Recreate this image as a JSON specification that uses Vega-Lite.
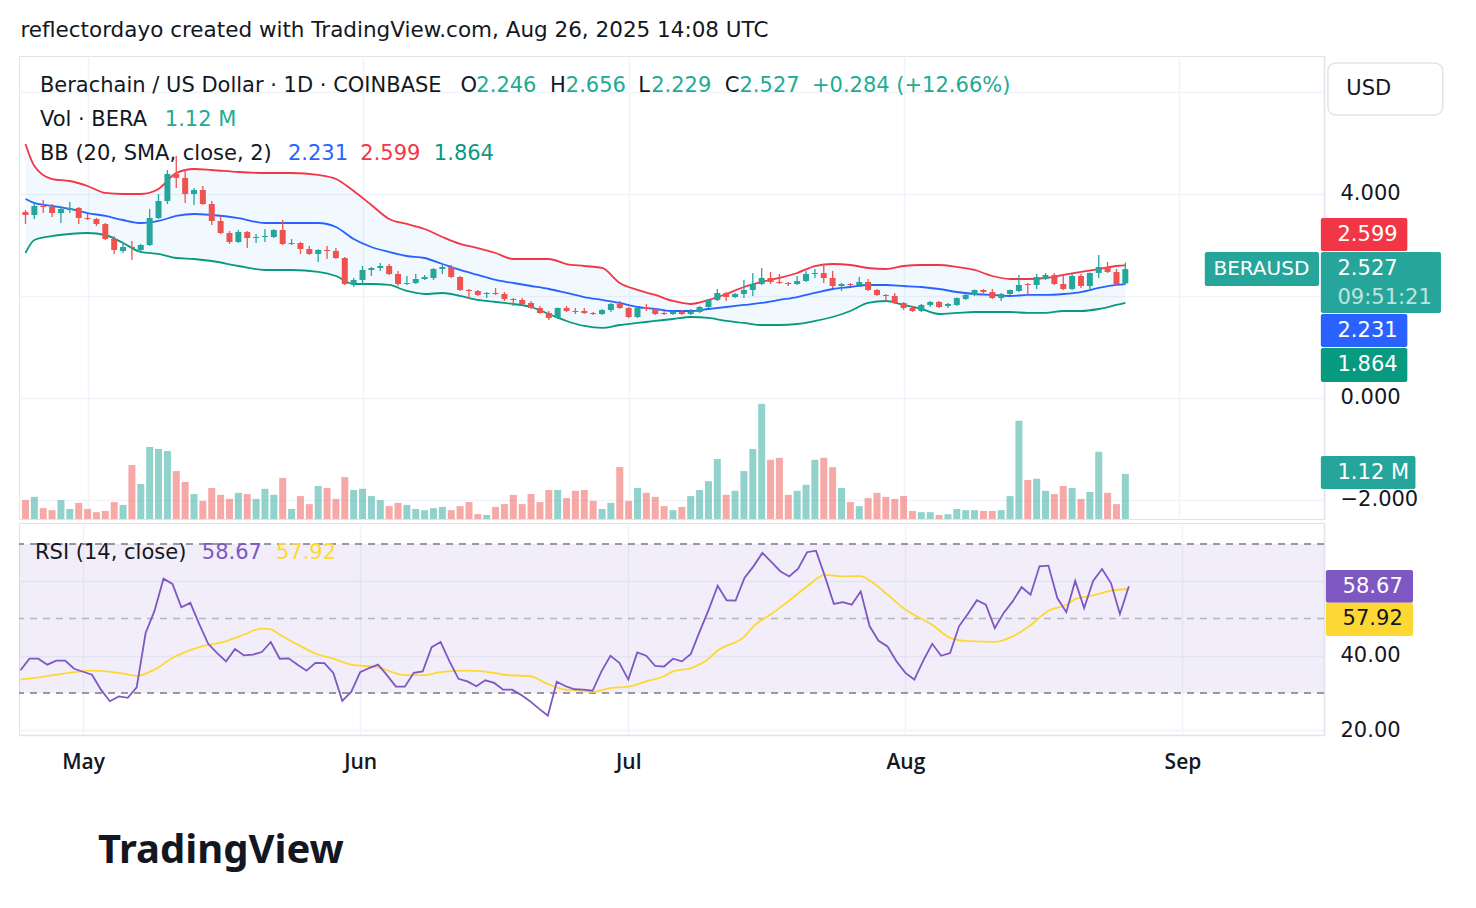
{
"$schema":"https://vega.github.io/schema/vega-lite/v6.json",
"background":"#ffffff",
"padding":{"left":16,"top":20,"right":10,"bottom":30},
"config":{"font":"DejaVu Sans","view":{"stroke":"#e0e3eb"}},
"title":{"text":"reflectordayo created with TradingView.com, Aug 26, 2025 14:08 UTC","anchor":"start","fontSize":21.5,"fontWeight":"normal","color":"#131722","offset":14,"dx":4},
"spacing":2,
"datasets":{
"candles":[
{"date":"2025-04-24","open":3.647,"high":3.686,"low":3.412,"close":3.588,"volume":0.47},
{"date":"2025-04-25","open":3.588,"high":3.824,"low":3.510,"close":3.765,"volume":0.55},
{"date":"2025-04-26","open":3.765,"high":3.882,"low":3.627,"close":3.745,"volume":0.27},
{"date":"2025-04-27","open":3.745,"high":3.804,"low":3.549,"close":3.627,"volume":0.22},
{"date":"2025-04-28","open":3.627,"high":3.765,"low":3.431,"close":3.706,"volume":0.47},
{"date":"2025-04-29","open":3.686,"high":3.843,"low":3.627,"close":3.725,"volume":0.25},
{"date":"2025-04-30","open":3.725,"high":3.745,"low":3.412,"close":3.529,"volume":0.40},
{"date":"2025-05-01","open":3.529,"high":3.608,"low":3.490,"close":3.510,"volume":0.25},
{"date":"2025-05-02","open":3.510,"high":3.529,"low":3.373,"close":3.412,"volume":0.17},
{"date":"2025-05-03","open":3.412,"high":3.431,"low":3.098,"close":3.118,"volume":0.20},
{"date":"2025-05-04","open":3.118,"high":3.176,"low":2.824,"close":2.902,"volume":0.42},
{"date":"2025-05-05","open":2.882,"high":3.020,"low":2.843,"close":2.961,"volume":0.35},
{"date":"2025-05-06","open":2.961,"high":3.078,"low":2.706,"close":2.941,"volume":1.34},
{"date":"2025-05-07","open":2.902,"high":3.020,"low":2.843,"close":3.000,"volume":0.87},
{"date":"2025-05-08","open":3.000,"high":3.706,"low":2.980,"close":3.529,"volume":1.79},
{"date":"2025-05-09","open":3.529,"high":4.000,"low":3.510,"close":3.863,"volume":1.74},
{"date":"2025-05-10","open":3.863,"high":4.471,"low":3.804,"close":4.392,"volume":1.69},
{"date":"2025-05-11","open":4.392,"high":4.745,"low":4.118,"close":4.314,"volume":1.19},
{"date":"2025-05-12","open":4.314,"high":4.490,"low":3.824,"close":4.000,"volume":0.92},
{"date":"2025-05-13","open":4.000,"high":4.118,"low":3.784,"close":4.078,"volume":0.62},
{"date":"2025-05-14","open":4.078,"high":4.157,"low":3.784,"close":3.804,"volume":0.45},
{"date":"2025-05-15","open":3.804,"high":3.863,"low":3.392,"close":3.471,"volume":0.77},
{"date":"2025-05-16","open":3.471,"high":3.569,"low":3.216,"close":3.235,"volume":0.60},
{"date":"2025-05-17","open":3.235,"high":3.275,"low":3.020,"close":3.059,"volume":0.50},
{"date":"2025-05-18","open":3.059,"high":3.294,"low":3.039,"close":3.255,"volume":0.65},
{"date":"2025-05-19","open":3.255,"high":3.275,"low":2.941,"close":3.137,"volume":0.62},
{"date":"2025-05-20","open":3.137,"high":3.216,"low":3.039,"close":3.157,"volume":0.50},
{"date":"2025-05-21","open":3.157,"high":3.314,"low":3.059,"close":3.176,"volume":0.75},
{"date":"2025-05-22","open":3.157,"high":3.314,"low":3.137,"close":3.294,"volume":0.60},
{"date":"2025-05-23","open":3.294,"high":3.490,"low":3.000,"close":3.020,"volume":1.02},
{"date":"2025-05-24","open":3.020,"high":3.118,"low":3.000,"close":3.039,"volume":0.25},
{"date":"2025-05-25","open":3.039,"high":3.059,"low":2.824,"close":2.922,"volume":0.57},
{"date":"2025-05-26","open":2.922,"high":2.980,"low":2.804,"close":2.824,"volume":0.37},
{"date":"2025-05-27","open":2.824,"high":2.922,"low":2.667,"close":2.902,"volume":0.82},
{"date":"2025-05-28","open":2.902,"high":2.980,"low":2.725,"close":2.882,"volume":0.77},
{"date":"2025-05-29","open":2.882,"high":2.941,"low":2.725,"close":2.745,"volume":0.50},
{"date":"2025-05-30","open":2.745,"high":2.765,"low":2.216,"close":2.235,"volume":1.04},
{"date":"2025-05-31","open":2.235,"high":2.353,"low":2.176,"close":2.314,"volume":0.72},
{"date":"2025-06-01","open":2.314,"high":2.588,"low":2.235,"close":2.510,"volume":0.75},
{"date":"2025-06-02","open":2.510,"high":2.569,"low":2.392,"close":2.549,"volume":0.57},
{"date":"2025-06-03","open":2.549,"high":2.647,"low":2.490,"close":2.588,"volume":0.47},
{"date":"2025-06-04","open":2.588,"high":2.627,"low":2.412,"close":2.431,"volume":0.32},
{"date":"2025-06-05","open":2.431,"high":2.490,"low":2.196,"close":2.235,"volume":0.40},
{"date":"2025-06-06","open":2.235,"high":2.392,"low":2.216,"close":2.255,"volume":0.35},
{"date":"2025-06-07","open":2.255,"high":2.431,"low":2.235,"close":2.333,"volume":0.25},
{"date":"2025-06-08","open":2.333,"high":2.412,"low":2.314,"close":2.373,"volume":0.22},
{"date":"2025-06-09","open":2.353,"high":2.549,"low":2.314,"close":2.529,"volume":0.27},
{"date":"2025-06-10","open":2.529,"high":2.608,"low":2.431,"close":2.569,"volume":0.30},
{"date":"2025-06-11","open":2.569,"high":2.608,"low":2.353,"close":2.373,"volume":0.22},
{"date":"2025-06-12","open":2.373,"high":2.392,"low":2.098,"close":2.118,"volume":0.32},
{"date":"2025-06-13","open":2.118,"high":2.137,"low":1.941,"close":2.098,"volume":0.42},
{"date":"2025-06-14","open":2.098,"high":2.118,"low":2.000,"close":2.020,"volume":0.12},
{"date":"2025-06-15","open":2.039,"high":2.078,"low":1.961,"close":2.059,"volume":0.10},
{"date":"2025-06-16","open":2.059,"high":2.157,"low":2.020,"close":2.039,"volume":0.30},
{"date":"2025-06-17","open":2.039,"high":2.078,"low":1.902,"close":1.941,"volume":0.37},
{"date":"2025-06-18","open":1.941,"high":1.961,"low":1.804,"close":1.922,"volume":0.60},
{"date":"2025-06-19","open":1.922,"high":1.961,"low":1.824,"close":1.843,"volume":0.37},
{"date":"2025-06-20","open":1.863,"high":1.902,"low":1.745,"close":1.765,"volume":0.62},
{"date":"2025-06-21","open":1.765,"high":1.804,"low":1.647,"close":1.667,"volume":0.42},
{"date":"2025-06-22","open":1.667,"high":1.706,"low":1.529,"close":1.569,"volume":0.72},
{"date":"2025-06-23","open":1.569,"high":1.775,"low":1.549,"close":1.765,"volume":0.72},
{"date":"2025-06-24","open":1.765,"high":1.804,"low":1.686,"close":1.706,"volume":0.52},
{"date":"2025-06-25","open":1.706,"high":1.765,"low":1.647,"close":1.686,"volume":0.70},
{"date":"2025-06-26","open":1.706,"high":1.765,"low":1.647,"close":1.667,"volume":0.72},
{"date":"2025-06-27","open":1.667,"high":1.686,"low":1.627,"close":1.647,"volume":0.45},
{"date":"2025-06-28","open":1.647,"high":1.745,"low":1.627,"close":1.725,"volume":0.25},
{"date":"2025-06-29","open":1.725,"high":1.863,"low":1.686,"close":1.843,"volume":0.40},
{"date":"2025-06-30","open":1.843,"high":1.902,"low":1.745,"close":1.765,"volume":1.29},
{"date":"2025-07-01","open":1.765,"high":1.784,"low":1.569,"close":1.588,"volume":0.45},
{"date":"2025-07-02","open":1.588,"high":1.784,"low":1.569,"close":1.765,"volume":0.77},
{"date":"2025-07-03","open":1.784,"high":1.843,"low":1.706,"close":1.745,"volume":0.65},
{"date":"2025-07-04","open":1.745,"high":1.765,"low":1.627,"close":1.647,"volume":0.55},
{"date":"2025-07-05","open":1.667,"high":1.706,"low":1.627,"close":1.647,"volume":0.32},
{"date":"2025-07-06","open":1.647,"high":1.706,"low":1.627,"close":1.686,"volume":0.22},
{"date":"2025-07-07","open":1.686,"high":1.725,"low":1.627,"close":1.647,"volume":0.30},
{"date":"2025-07-08","open":1.647,"high":1.745,"low":1.627,"close":1.686,"volume":0.57},
{"date":"2025-07-09","open":1.686,"high":1.804,"low":1.667,"close":1.784,"volume":0.72},
{"date":"2025-07-10","open":1.784,"high":1.941,"low":1.765,"close":1.922,"volume":0.94},
{"date":"2025-07-11","open":1.922,"high":2.137,"low":1.902,"close":2.059,"volume":1.49},
{"date":"2025-07-12","open":2.059,"high":2.078,"low":1.902,"close":1.980,"volume":0.60},
{"date":"2025-07-13","open":1.980,"high":2.059,"low":1.961,"close":2.039,"volume":0.70},
{"date":"2025-07-14","open":2.039,"high":2.314,"low":1.961,"close":2.118,"volume":1.19},
{"date":"2025-07-15","open":2.118,"high":2.451,"low":2.000,"close":2.235,"volume":1.74},
{"date":"2025-07-16","open":2.235,"high":2.549,"low":2.216,"close":2.353,"volume":2.86},
{"date":"2025-07-17","open":2.353,"high":2.471,"low":2.235,"close":2.275,"volume":1.47},
{"date":"2025-07-18","open":2.275,"high":2.431,"low":2.235,"close":2.255,"volume":1.52},
{"date":"2025-07-19","open":2.255,"high":2.275,"low":2.196,"close":2.235,"volume":0.60},
{"date":"2025-07-20","open":2.235,"high":2.392,"low":2.216,"close":2.294,"volume":0.70},
{"date":"2025-07-21","open":2.294,"high":2.490,"low":2.275,"close":2.431,"volume":0.85},
{"date":"2025-07-22","open":2.431,"high":2.529,"low":2.353,"close":2.451,"volume":1.47},
{"date":"2025-07-23","open":2.451,"high":2.627,"low":2.255,"close":2.353,"volume":1.52},
{"date":"2025-07-24","open":2.353,"high":2.490,"low":2.157,"close":2.196,"volume":1.29},
{"date":"2025-07-25","open":2.196,"high":2.255,"low":2.098,"close":2.235,"volume":0.77},
{"date":"2025-07-26","open":2.235,"high":2.255,"low":2.196,"close":2.216,"volume":0.42},
{"date":"2025-07-27","open":2.216,"high":2.373,"low":2.196,"close":2.275,"volume":0.32},
{"date":"2025-07-28","open":2.275,"high":2.333,"low":2.098,"close":2.118,"volume":0.52},
{"date":"2025-07-29","open":2.118,"high":2.137,"low":2.000,"close":2.020,"volume":0.65},
{"date":"2025-07-30","open":2.020,"high":2.039,"low":1.902,"close":2.000,"volume":0.55},
{"date":"2025-07-31","open":2.000,"high":2.059,"low":1.843,"close":1.863,"volume":0.50},
{"date":"2025-08-01","open":1.863,"high":1.882,"low":1.725,"close":1.765,"volume":0.57},
{"date":"2025-08-02","open":1.765,"high":1.804,"low":1.686,"close":1.706,"volume":0.20},
{"date":"2025-08-03","open":1.706,"high":1.843,"low":1.686,"close":1.824,"volume":0.17},
{"date":"2025-08-04","open":1.824,"high":1.902,"low":1.784,"close":1.882,"volume":0.17},
{"date":"2025-08-05","open":1.882,"high":1.902,"low":1.765,"close":1.784,"volume":0.10},
{"date":"2025-08-06","open":1.804,"high":1.863,"low":1.765,"close":1.843,"volume":0.12},
{"date":"2025-08-07","open":1.824,"high":1.971,"low":1.804,"close":1.961,"volume":0.25},
{"date":"2025-08-08","open":1.941,"high":2.059,"low":1.922,"close":2.020,"volume":0.22},
{"date":"2025-08-09","open":2.020,"high":2.127,"low":2.000,"close":2.118,"volume":0.22},
{"date":"2025-08-10","open":2.118,"high":2.137,"low":2.020,"close":2.078,"volume":0.20},
{"date":"2025-08-11","open":2.078,"high":2.137,"low":1.941,"close":1.961,"volume":0.20},
{"date":"2025-08-12","open":1.961,"high":2.059,"low":1.902,"close":2.039,"volume":0.22},
{"date":"2025-08-13","open":2.039,"high":2.127,"low":2.020,"close":2.118,"volume":0.57},
{"date":"2025-08-14","open":2.098,"high":2.412,"low":2.078,"close":2.216,"volume":2.44},
{"date":"2025-08-15","open":2.235,"high":2.255,"low":2.000,"close":2.216,"volume":0.97},
{"date":"2025-08-16","open":2.216,"high":2.431,"low":2.137,"close":2.373,"volume":1.00},
{"date":"2025-08-17","open":2.333,"high":2.451,"low":2.314,"close":2.412,"volume":0.70},
{"date":"2025-08-18","open":2.412,"high":2.451,"low":2.216,"close":2.235,"volume":0.62},
{"date":"2025-08-19","open":2.235,"high":2.412,"low":2.118,"close":2.137,"volume":0.82},
{"date":"2025-08-20","open":2.137,"high":2.431,"low":2.118,"close":2.392,"volume":0.77},
{"date":"2025-08-21","open":2.392,"high":2.431,"low":2.157,"close":2.196,"volume":0.50},
{"date":"2025-08-22","open":2.196,"high":2.461,"low":2.118,"close":2.451,"volume":0.67},
{"date":"2025-08-23","open":2.451,"high":2.804,"low":2.353,"close":2.569,"volume":1.67},
{"date":"2025-08-24","open":2.569,"high":2.667,"low":2.451,"close":2.471,"volume":0.65},
{"date":"2025-08-25","open":2.471,"high":2.529,"low":2.216,"close":2.235,"volume":0.37},
{"date":"2025-08-26","open":2.246,"high":2.656,"low":2.229,"close":2.527,"volume":1.12}
],
"bb":[
{"date":"2025-04-24","upper":4.980,"mid":3.902,"lower":2.843},
{"date":"2025-04-25","upper":4.549,"mid":3.824,"lower":3.098},
{"date":"2025-04-27","upper":4.294,"mid":3.765,"lower":3.176},
{"date":"2025-04-29","upper":4.255,"mid":3.706,"lower":3.216},
{"date":"2025-05-01","upper":4.157,"mid":3.627,"lower":3.235},
{"date":"2025-05-03","upper":4.020,"mid":3.569,"lower":3.196},
{"date":"2025-05-05","upper":4.000,"mid":3.490,"lower":3.039},
{"date":"2025-05-07","upper":4.000,"mid":3.431,"lower":2.863},
{"date":"2025-05-09","upper":4.098,"mid":3.471,"lower":2.824},
{"date":"2025-05-11","upper":4.412,"mid":3.569,"lower":2.745},
{"date":"2025-05-13","upper":4.490,"mid":3.608,"lower":2.725},
{"date":"2025-05-15","upper":4.471,"mid":3.588,"lower":2.686},
{"date":"2025-05-18","upper":4.431,"mid":3.529,"lower":2.588},
{"date":"2025-05-21","upper":4.412,"mid":3.431,"lower":2.510},
{"date":"2025-05-24","upper":4.412,"mid":3.431,"lower":2.510},
{"date":"2025-05-27","upper":4.373,"mid":3.431,"lower":2.471},
{"date":"2025-05-29","upper":4.294,"mid":3.353,"lower":2.392},
{"date":"2025-05-31","upper":4.059,"mid":3.118,"lower":2.235},
{"date":"2025-06-02","upper":3.784,"mid":2.961,"lower":2.235},
{"date":"2025-06-04","upper":3.510,"mid":2.863,"lower":2.216},
{"date":"2025-06-06","upper":3.412,"mid":2.784,"lower":2.098},
{"date":"2025-06-08","upper":3.314,"mid":2.745,"lower":2.039},
{"date":"2025-06-10","upper":3.157,"mid":2.627,"lower":2.059},
{"date":"2025-06-12","upper":3.020,"mid":2.510,"lower":2.000},
{"date":"2025-06-14","upper":2.941,"mid":2.412,"lower":1.922},
{"date":"2025-06-16","upper":2.843,"mid":2.314,"lower":1.882},
{"date":"2025-06-18","upper":2.725,"mid":2.255,"lower":1.843},
{"date":"2025-06-20","upper":2.725,"mid":2.196,"lower":1.784},
{"date":"2025-06-22","upper":2.725,"mid":2.137,"lower":1.647},
{"date":"2025-06-24","upper":2.627,"mid":2.059,"lower":1.510},
{"date":"2025-06-26","upper":2.588,"mid":1.980,"lower":1.412},
{"date":"2025-06-28","upper":2.549,"mid":1.922,"lower":1.373},
{"date":"2025-06-30","upper":2.255,"mid":1.863,"lower":1.431},
{"date":"2025-07-02","upper":2.118,"mid":1.784,"lower":1.471},
{"date":"2025-07-04","upper":2.020,"mid":1.745,"lower":1.510},
{"date":"2025-07-06","upper":1.902,"mid":1.706,"lower":1.549},
{"date":"2025-07-08","upper":1.843,"mid":1.706,"lower":1.588},
{"date":"2025-07-10","upper":1.922,"mid":1.745,"lower":1.569},
{"date":"2025-07-12","upper":2.039,"mid":1.784,"lower":1.510},
{"date":"2025-07-14","upper":2.176,"mid":1.824,"lower":1.471},
{"date":"2025-07-16","upper":2.275,"mid":1.863,"lower":1.431},
{"date":"2025-07-18","upper":2.353,"mid":1.922,"lower":1.431},
{"date":"2025-07-20","upper":2.451,"mid":1.980,"lower":1.451},
{"date":"2025-07-22","upper":2.588,"mid":2.059,"lower":1.510},
{"date":"2025-07-24","upper":2.627,"mid":2.137,"lower":1.588},
{"date":"2025-07-26","upper":2.608,"mid":2.176,"lower":1.706},
{"date":"2025-07-28","upper":2.549,"mid":2.216,"lower":1.863},
{"date":"2025-07-30","upper":2.529,"mid":2.216,"lower":1.902},
{"date":"2025-08-01","upper":2.588,"mid":2.196,"lower":1.824},
{"date":"2025-08-03","upper":2.608,"mid":2.176,"lower":1.745},
{"date":"2025-08-05","upper":2.608,"mid":2.137,"lower":1.647},
{"date":"2025-08-07","upper":2.569,"mid":2.078,"lower":1.667},
{"date":"2025-08-09","upper":2.510,"mid":2.039,"lower":1.686},
{"date":"2025-08-11","upper":2.392,"mid":2.020,"lower":1.686},
{"date":"2025-08-13","upper":2.333,"mid":2.000,"lower":1.686},
{"date":"2025-08-15","upper":2.333,"mid":2.020,"lower":1.667},
{"date":"2025-08-17","upper":2.353,"mid":2.020,"lower":1.667},
{"date":"2025-08-19","upper":2.412,"mid":2.039,"lower":1.706},
{"date":"2025-08-21","upper":2.471,"mid":2.078,"lower":1.706},
{"date":"2025-08-23","upper":2.529,"mid":2.157,"lower":1.745},
{"date":"2025-08-25","upper":2.588,"mid":2.216,"lower":1.824},
{"date":"2025-08-26","upper":2.599,"mid":2.231,"lower":1.864}
],
"rsi":[
{"date":"2025-04-24","rsi":36.1},{"date":"2025-04-25","rsi":39.2},{"date":"2025-04-26","rsi":39.2},{"date":"2025-04-27","rsi":37.6},{"date":"2025-04-28","rsi":38.7},{"date":"2025-04-29","rsi":38.7},{"date":"2025-04-30","rsi":36.5},
{"date":"2025-05-01","rsi":35.7},{"date":"2025-05-02","rsi":34.9},{"date":"2025-05-03","rsi":30.9},{"date":"2025-05-04","rsi":27.8},{"date":"2025-05-05","rsi":29.1},{"date":"2025-05-06","rsi":28.7},{"date":"2025-05-07","rsi":31.5},{"date":"2025-05-08","rsi":46.1},{"date":"2025-05-09","rsi":52.1},{"date":"2025-05-10","rsi":60.7},{"date":"2025-05-11","rsi":59.3},{"date":"2025-05-12","rsi":53.0},{"date":"2025-05-13","rsi":54.2},{"date":"2025-05-14","rsi":48.5},{"date":"2025-05-15","rsi":43.2},{"date":"2025-05-16","rsi":40.7},{"date":"2025-05-17","rsi":38.5},{"date":"2025-05-18","rsi":41.8},{"date":"2025-05-19","rsi":40.1},{"date":"2025-05-20","rsi":40.3},{"date":"2025-05-21","rsi":41.0},{"date":"2025-05-22","rsi":43.7},{"date":"2025-05-23","rsi":39.2},{"date":"2025-05-24","rsi":39.3},{"date":"2025-05-25","rsi":37.6},{"date":"2025-05-26","rsi":36.0},{"date":"2025-05-27","rsi":38.1},{"date":"2025-05-28","rsi":38.0},{"date":"2025-05-29","rsi":35.4},{"date":"2025-05-30","rsi":27.9},{"date":"2025-05-31","rsi":30.3},
{"date":"2025-06-01","rsi":35.6},{"date":"2025-06-02","rsi":36.7},{"date":"2025-06-03","rsi":37.6},{"date":"2025-06-04","rsi":34.8},{"date":"2025-06-05","rsi":31.7},{"date":"2025-06-06","rsi":31.7},{"date":"2025-06-07","rsi":35.4},{"date":"2025-06-08","rsi":35.8},{"date":"2025-06-09","rsi":42.3},{"date":"2025-06-10","rsi":43.7},{"date":"2025-06-11","rsi":38.5},{"date":"2025-06-12","rsi":33.8},{"date":"2025-06-13","rsi":33.1},{"date":"2025-06-14","rsi":31.8},{"date":"2025-06-15","rsi":33.4},{"date":"2025-06-16","rsi":32.7},{"date":"2025-06-17","rsi":30.9},{"date":"2025-06-18","rsi":30.9},{"date":"2025-06-19","rsi":29.5},{"date":"2025-06-20","rsi":27.8},{"date":"2025-06-21","rsi":25.8},{"date":"2025-06-22","rsi":23.9},{"date":"2025-06-23","rsi":33.0},{"date":"2025-06-24","rsi":31.8},{"date":"2025-06-25","rsi":31.0},{"date":"2025-06-26","rsi":30.9},{"date":"2025-06-27","rsi":30.6},{"date":"2025-06-28","rsi":35.8},{"date":"2025-06-29","rsi":40.0},{"date":"2025-06-30","rsi":38.1},
{"date":"2025-07-01","rsi":33.6},{"date":"2025-07-02","rsi":40.9},{"date":"2025-07-03","rsi":40.0},{"date":"2025-07-04","rsi":37.3},{"date":"2025-07-05","rsi":37.1},{"date":"2025-07-06","rsi":39.2},{"date":"2025-07-07","rsi":38.5},{"date":"2025-07-08","rsi":40.5},{"date":"2025-07-09","rsi":46.6},{"date":"2025-07-10","rsi":52.4},{"date":"2025-07-11","rsi":58.8},{"date":"2025-07-12","rsi":54.9},{"date":"2025-07-13","rsi":54.8},{"date":"2025-07-14","rsi":60.9},{"date":"2025-07-15","rsi":64.0},{"date":"2025-07-16","rsi":67.6},{"date":"2025-07-17","rsi":65.2},{"date":"2025-07-18","rsi":62.7},{"date":"2025-07-19","rsi":61.3},{"date":"2025-07-20","rsi":63.4},{"date":"2025-07-21","rsi":67.8},{"date":"2025-07-22","rsi":68.2},{"date":"2025-07-23","rsi":61.3},{"date":"2025-07-24","rsi":53.9},{"date":"2025-07-25","rsi":54.4},{"date":"2025-07-26","rsi":53.7},{"date":"2025-07-27","rsi":57.3},{"date":"2025-07-28","rsi":47.9},{"date":"2025-07-29","rsi":44.0},{"date":"2025-07-30","rsi":42.5},{"date":"2025-07-31","rsi":38.5},
{"date":"2025-08-01","rsi":35.4},{"date":"2025-08-02","rsi":33.6},{"date":"2025-08-03","rsi":38.7},{"date":"2025-08-04","rsi":43.2},{"date":"2025-08-05","rsi":40.0},{"date":"2025-08-06","rsi":40.7},{"date":"2025-08-07","rsi":47.9},{"date":"2025-08-08","rsi":51.3},{"date":"2025-08-09","rsi":54.9},{"date":"2025-08-10","rsi":53.7},{"date":"2025-08-11","rsi":47.4},{"date":"2025-08-12","rsi":51.5},{"date":"2025-08-13","rsi":54.6},{"date":"2025-08-14","rsi":58.4},{"date":"2025-08-15","rsi":56.4},{"date":"2025-08-16","rsi":64.0},{"date":"2025-08-17","rsi":64.2},{"date":"2025-08-18","rsi":55.5},{"date":"2025-08-19","rsi":51.7},{"date":"2025-08-20","rsi":60.1},{"date":"2025-08-21","rsi":52.8},{"date":"2025-08-22","rsi":60.1},{"date":"2025-08-23","rsi":63.3},{"date":"2025-08-24","rsi":59.5},{"date":"2025-08-25","rsi":51.2},{"date":"2025-08-26","rsi":58.67}
],
"rsima":[
{"date":"2025-04-24","ma":33.6},{"date":"2025-04-26","ma":34.2},{"date":"2025-04-28","ma":34.9},{"date":"2025-04-30","ma":35.6},{"date":"2025-05-02","ma":36.0},{"date":"2025-05-05","ma":35.4},{"date":"2025-05-07","ma":34.6},{"date":"2025-05-09","ma":36.3},{"date":"2025-05-11","ma":39.4},{"date":"2025-05-14","ma":42.3},{"date":"2025-05-17","ma":43.9},{"date":"2025-05-19","ma":45.7},{"date":"2025-05-21","ma":47.3},{"date":"2025-05-22","ma":47.1},{"date":"2025-05-23","ma":45.7},{"date":"2025-05-25","ma":43.0},{"date":"2025-05-27","ma":40.6},{"date":"2025-05-29","ma":39.2},{"date":"2025-05-31","ma":37.6},{"date":"2025-06-03","ma":36.9},{"date":"2025-06-06","ma":34.8},{"date":"2025-06-08","ma":34.8},{"date":"2025-06-10","ma":35.6},{"date":"2025-06-13","ma":36.0},{"date":"2025-06-16","ma":35.4},{"date":"2025-06-17","ma":34.9},{"date":"2025-06-20","ma":34.5},{"date":"2025-06-22","ma":32.4},{"date":"2025-06-24","ma":30.9},{"date":"2025-06-25","ma":30.8},{"date":"2025-06-27","ma":30.3},{"date":"2025-06-29","ma":31.3},{"date":"2025-07-01","ma":31.7},{"date":"2025-07-03","ma":33.1},{"date":"2025-07-05","ma":34.5},{"date":"2025-07-06","ma":35.8},{"date":"2025-07-08","ma":36.7},{"date":"2025-07-10","ma":39.2},{"date":"2025-07-11","ma":41.4},{"date":"2025-07-14","ma":45.2},{"date":"2025-07-15","ma":47.9},{"date":"2025-07-17","ma":51.2},{"date":"2025-07-19","ma":54.8},{"date":"2025-07-21","ma":58.6},{"date":"2025-07-23","ma":61.7},{"date":"2025-07-25","ma":61.3},{"date":"2025-07-27","ma":61.4},{"date":"2025-07-28","ma":60.2},{"date":"2025-07-30","ma":56.4},{"date":"2025-08-01","ma":52.4},{"date":"2025-08-04","ma":48.3},{"date":"2025-08-06","ma":44.8},{"date":"2025-08-08","ma":43.9},{"date":"2025-08-11","ma":43.7},{"date":"2025-08-13","ma":45.2},{"date":"2025-08-15","ma":48.2},{"date":"2025-08-17","ma":52.1},{"date":"2025-08-19","ma":53.7},{"date":"2025-08-20","ma":55.2},{"date":"2025-08-22","ma":56.2},{"date":"2025-08-24","ma":57.5},{"date":"2025-08-26","ma":57.92}
]
},
"vconcat":[
{
"width":1305,"height":463,
"layer":[
{"data":{"name":"candles"},"mark":{"type":"bar","size":7,"opacity":0.5,"clip":true},
 "encoding":{
  "x":{"field":"date","type":"temporal","scale":{"type":"utc","nice":false,"domain":[{"year":2025,"month":4,"date":23,"hours":20,"utc":true},{"year":2025,"month":9,"date":16,"hours":20,"utc":true}]},
       "axis":{"values":[{"year":2025,"month":5,"date":1,"utc":true},{"year":2025,"month":6,"date":1,"utc":true},{"year":2025,"month":7,"date":1,"utc":true},{"year":2025,"month":8,"date":1,"utc":true},{"year":2025,"month":9,"date":1,"utc":true}],"labels":false,"ticks":false,"domain":false,"grid":true,"gridColor":"#f0f3fa","gridWidth":1.5,"title":null}},
  "y":{"field":"volume","type":"quantitative","scale":{"domain":[0,11.5],"nice":false},"axis":null},
  "color":{"condition":{"test":"datum.close >= datum.open","value":"#26a69a"},"value":"#ef5350"}}},
{"layer":[
 {"data":{"name":"bb"},"mark":{"type":"area","color":"#2196f3","opacity":0.06,"interpolate":"monotone"},
  "encoding":{"x":{"field":"date","type":"temporal","scale":{"type":"utc","nice":false,"domain":[{"year":2025,"month":4,"date":23,"hours":20,"utc":true},{"year":2025,"month":9,"date":16,"hours":20,"utc":true}]},
       "axis":{"values":[{"year":2025,"month":5,"date":1,"utc":true},{"year":2025,"month":6,"date":1,"utc":true},{"year":2025,"month":7,"date":1,"utc":true},{"year":2025,"month":8,"date":1,"utc":true},{"year":2025,"month":9,"date":1,"utc":true}],"labels":false,"ticks":false,"domain":false,"grid":true,"gridColor":"#f0f3fa","gridWidth":1.5,"title":null}},
   "y":{"field":"lower","type":"quantitative","scale":{"domain":[-2.373,6.706],"nice":false,"zero":false},
        "axis":{"orient":"right","values":[6,4,2,0,-2],"labelExpr":"datum.value == 4 || datum.value == 0 || datum.value == -2 ? format(datum.value, '.3f') : ''","grid":true,"gridColor":"#f0f3fa","gridWidth":1.5,"ticks":false,"domainColor":"#e0e3eb","domainWidth":1.5,"labelFontSize":21,"labelColor":"#131722","labelPadding":16,"title":null}},
   "y2":{"field":"upper"}}},
 {"data":{"name":"bb"},"mark":{"type":"line","color":"#f23645","strokeWidth":1.8,"interpolate":"monotone"},
  "encoding":{"x":{"field":"date","type":"temporal"},"y":{"field":"upper","type":"quantitative"}}},
 {"data":{"name":"bb"},"mark":{"type":"line","color":"#2962ff","strokeWidth":1.8,"interpolate":"monotone"},
  "encoding":{"x":{"field":"date","type":"temporal"},"y":{"field":"mid","type":"quantitative"}}},
 {"data":{"name":"bb"},"mark":{"type":"line","color":"#089981","strokeWidth":1.8,"interpolate":"monotone"},
  "encoding":{"x":{"field":"date","type":"temporal"},"y":{"field":"lower","type":"quantitative"}}},
 {"data":{"name":"candles"},"mark":{"type":"rule","strokeWidth":1.3,"clip":true},
  "encoding":{"x":{"field":"date","type":"temporal"},"y":{"field":"low","type":"quantitative"},"y2":{"field":"high"},
   "color":{"condition":{"test":"datum.close >= datum.open","value":"#26a69a"},"value":"#ef5350"}}},
 {"data":{"name":"candles"},"mark":{"type":"bar","size":6,"clip":true},
  "encoding":{"x":{"field":"date","type":"temporal"},"y":{"field":"open","type":"quantitative"},"y2":{"field":"close"},
   "color":{"condition":{"test":"datum.close >= datum.open","value":"#26a69a"},"value":"#ef5350"}}},
 {"data":{"values":[{}]},"mark":{"type":"text","align":"left","baseline":"middle","fontSize":21,"color":"#131722"},
  "encoding":{"x":{"datum":{"year":2025,"month":4,"date":25,"hours":15,"utc":true},"type":"temporal"},"y":{"datum":6.118,"type":"quantitative"},"text":{"value":"Berachain / US Dollar · 1D · COINBASE"}}},
 {"data":{"values":[{}]},"mark":{"type":"text","align":"left","baseline":"middle","fontSize":21,"color":"#131722"},
  "encoding":{"x":{"datum":{"year":2025,"month":6,"date":12,"hours":1,"utc":true},"type":"temporal"},"y":{"datum":6.118,"type":"quantitative"},"text":{"value":"O"}}},
 {"data":{"values":[{}]},"mark":{"type":"text","align":"left","baseline":"middle","fontSize":21,"color":"#22ab94"},
  "encoding":{"x":{"datum":{"year":2025,"month":6,"date":13,"hours":20,"utc":true},"type":"temporal"},"y":{"datum":6.118,"type":"quantitative"},"text":{"value":"2.246"}}},
 {"data":{"values":[{}]},"mark":{"type":"text","align":"left","baseline":"middle","fontSize":21,"color":"#131722"},
  "encoding":{"x":{"datum":{"year":2025,"month":6,"date":22,"hours":3,"utc":true},"type":"temporal"},"y":{"datum":6.118,"type":"quantitative"},"text":{"value":"H"}}},
 {"data":{"values":[{}]},"mark":{"type":"text","align":"left","baseline":"middle","fontSize":21,"color":"#22ab94"},
  "encoding":{"x":{"datum":{"year":2025,"month":6,"date":23,"hours":22,"utc":true},"type":"temporal"},"y":{"datum":6.118,"type":"quantitative"},"text":{"value":"2.656"}}},
 {"data":{"values":[{}]},"mark":{"type":"text","align":"left","baseline":"middle","fontSize":21,"color":"#131722"},
  "encoding":{"x":{"datum":{"year":2025,"month":7,"date":2,"hours":2,"utc":true},"type":"temporal"},"y":{"datum":6.118,"type":"quantitative"},"text":{"value":"L"}}},
 {"data":{"values":[{}]},"mark":{"type":"text","align":"left","baseline":"middle","fontSize":21,"color":"#22ab94"},
  "encoding":{"x":{"datum":{"year":2025,"month":7,"date":3,"hours":13,"utc":true},"type":"temporal"},"y":{"datum":6.118,"type":"quantitative"},"text":{"value":"2.229"}}},
 {"data":{"values":[{}]},"mark":{"type":"text","align":"left","baseline":"middle","fontSize":21,"color":"#131722"},
  "encoding":{"x":{"datum":{"year":2025,"month":7,"date":11,"hours":20,"utc":true},"type":"temporal"},"y":{"datum":6.118,"type":"quantitative"},"text":{"value":"C"}}},
 {"data":{"values":[{}]},"mark":{"type":"text","align":"left","baseline":"middle","fontSize":21,"color":"#22ab94"},
  "encoding":{"x":{"datum":{"year":2025,"month":7,"date":13,"hours":12,"utc":true},"type":"temporal"},"y":{"datum":6.118,"type":"quantitative"},"text":{"value":"2.527"}}},
 {"data":{"values":[{}]},"mark":{"type":"text","align":"left","baseline":"middle","fontSize":21,"color":"#22ab94"},
  "encoding":{"x":{"datum":{"year":2025,"month":7,"date":21,"hours":16,"utc":true},"type":"temporal"},"y":{"datum":6.118,"type":"quantitative"},"text":{"value":"+0.284 (+12.66%)"}}},
 {"data":{"values":[{}]},"mark":{"type":"text","align":"left","baseline":"middle","fontSize":21,"color":"#131722"},
  "encoding":{"x":{"datum":{"year":2025,"month":4,"date":25,"hours":15,"utc":true},"type":"temporal"},"y":{"datum":5.451,"type":"quantitative"},"text":{"value":"Vol · BERA"}}},
 {"data":{"values":[{}]},"mark":{"type":"text","align":"left","baseline":"middle","fontSize":21,"color":"#22ab94"},
  "encoding":{"x":{"datum":{"year":2025,"month":5,"date":9,"hours":17,"utc":true},"type":"temporal"},"y":{"datum":5.451,"type":"quantitative"},"text":{"value":"1.12 M"}}},
 {"data":{"values":[{}]},"mark":{"type":"text","align":"left","baseline":"middle","fontSize":21,"color":"#131722"},
  "encoding":{"x":{"datum":{"year":2025,"month":4,"date":25,"hours":15,"utc":true},"type":"temporal"},"y":{"datum":4.784,"type":"quantitative"},"text":{"value":"BB (20, SMA, close, 2)"}}},
 {"data":{"values":[{}]},"mark":{"type":"text","align":"left","baseline":"middle","fontSize":21,"color":"#2962ff"},
  "encoding":{"x":{"datum":{"year":2025,"month":5,"date":23,"hours":14,"utc":true},"type":"temporal"},"y":{"datum":4.784,"type":"quantitative"},"text":{"value":"2.231"}}},
 {"data":{"values":[{}]},"mark":{"type":"text","align":"left","baseline":"middle","fontSize":21,"color":"#f23645"},
  "encoding":{"x":{"datum":{"year":2025,"month":5,"date":31,"hours":18,"utc":true},"type":"temporal"},"y":{"datum":4.784,"type":"quantitative"},"text":{"value":"2.599"}}},
 {"data":{"values":[{}]},"mark":{"type":"text","align":"left","baseline":"middle","fontSize":21,"color":"#089981"},
  "encoding":{"x":{"datum":{"year":2025,"month":6,"date":9,"hours":1,"utc":true},"type":"temporal"},"y":{"datum":4.784,"type":"quantitative"},"text":{"value":"1.864"}}},
 {"data":{"values":[{}]},"mark":{"type":"rect","color":"#ffffff","stroke":"#e0e3eb","strokeWidth":1.5,"cornerRadius":8},
  "encoding":{"x":{"datum":{"year":2025,"month":9,"date":17,"hours":20,"utc":true},"type":"temporal"},"x2":{"datum":{"year":2025,"month":9,"date":30,"hours":19,"utc":true}},"y":{"datum":6.569,"type":"quantitative"},"y2":{"datum":5.549}}},
 {"data":{"values":[{}]},"mark":{"type":"text","align":"left","baseline":"middle","fontSize":21,"color":"#131722"},
  "encoding":{"x":{"datum":{"year":2025,"month":9,"date":19,"hours":22,"utc":true},"type":"temporal"},"y":{"datum":6.059,"type":"quantitative"},"text":{"value":"USD"}}},
 {"data":{"values":[{}]},"mark":{"type":"rect","color":"#f23645","cornerRadius":2},
  "encoding":{"x":{"datum":{"year":2025,"month":9,"date":17,"hours":1,"utc":true},"type":"temporal"},"x2":{"datum":{"year":2025,"month":9,"date":26,"hours":19,"utc":true}},"y":{"datum":3.529,"type":"quantitative"},"y2":{"datum":2.882}}},
 {"data":{"values":[{}]},"mark":{"type":"rect","color":"#26a69a","cornerRadius":2},
  "encoding":{"x":{"datum":{"year":2025,"month":9,"date":17,"hours":1,"utc":true},"type":"temporal"},"x2":{"datum":{"year":2025,"month":9,"date":30,"hours":14,"utc":true}},"y":{"datum":2.863,"type":"quantitative"},"y2":{"datum":1.667}}},
 {"data":{"values":[{}]},"mark":{"type":"rect","color":"#26a69a","cornerRadius":2},
  "encoding":{"x":{"datum":{"year":2025,"month":9,"date":3,"hours":23,"utc":true},"type":"temporal"},"x2":{"datum":{"year":2025,"month":9,"date":16,"hours":20,"utc":true}},"y":{"datum":2.863,"type":"quantitative"},"y2":{"datum":2.196}}},
 {"data":{"values":[{}]},"mark":{"type":"rect","color":"#2962ff","cornerRadius":2},
  "encoding":{"x":{"datum":{"year":2025,"month":9,"date":17,"hours":1,"utc":true},"type":"temporal"},"x2":{"datum":{"year":2025,"month":9,"date":26,"hours":19,"utc":true}},"y":{"datum":1.647,"type":"quantitative"},"y2":{"datum":1.0}}},
 {"data":{"values":[{}]},"mark":{"type":"rect","color":"#089981","cornerRadius":2},
  "encoding":{"x":{"datum":{"year":2025,"month":9,"date":17,"hours":1,"utc":true},"type":"temporal"},"x2":{"datum":{"year":2025,"month":9,"date":26,"hours":19,"utc":true}},"y":{"datum":0.980,"type":"quantitative"},"y2":{"datum":0.314}}},
 {"data":{"values":[{}]},"mark":{"type":"rect","color":"#26a69a","cornerRadius":2},
  "encoding":{"x":{"datum":{"year":2025,"month":9,"date":17,"hours":1,"utc":true},"type":"temporal"},"x2":{"datum":{"year":2025,"month":9,"date":27,"hours":17,"utc":true}},"y":{"datum":-1.137,"type":"quantitative"},"y2":{"datum":-1.784}}},
 {"data":{"values":[{}]},"mark":{"type":"text","align":"left","baseline":"middle","fontSize":21,"color":"#ffffff"},
  "encoding":{"x":{"datum":{"year":2025,"month":9,"date":18,"hours":22,"utc":true},"type":"temporal"},"y":{"datum":3.196,"type":"quantitative"},"text":{"value":"2.599"}}},
 {"data":{"values":[{}]},"mark":{"type":"text","align":"left","baseline":"middle","fontSize":21,"color":"#ffffff"},
  "encoding":{"x":{"datum":{"year":2025,"month":9,"date":18,"hours":22,"utc":true},"type":"temporal"},"y":{"datum":2.529,"type":"quantitative"},"text":{"value":"2.527"}}},
 {"data":{"values":[{}]},"mark":{"type":"text","align":"left","baseline":"middle","fontSize":21,"color":"#ffffff","opacity":0.7},
  "encoding":{"x":{"datum":{"year":2025,"month":9,"date":18,"hours":22,"utc":true},"type":"temporal"},"y":{"datum":1.961,"type":"quantitative"},"text":{"value":"09:51:21"}}},
 {"data":{"values":[{}]},"mark":{"type":"text","align":"center","baseline":"middle","fontSize":20,"color":"#ffffff"},
  "encoding":{"x":{"datum":{"year":2025,"month":9,"date":10,"hours":8,"utc":true},"type":"temporal"},"y":{"datum":2.529,"type":"quantitative"},"text":{"value":"BERAUSD"}}},
 {"data":{"values":[{}]},"mark":{"type":"text","align":"left","baseline":"middle","fontSize":21,"color":"#ffffff"},
  "encoding":{"x":{"datum":{"year":2025,"month":9,"date":18,"hours":22,"utc":true},"type":"temporal"},"y":{"datum":1.314,"type":"quantitative"},"text":{"value":"2.231"}}},
 {"data":{"values":[{}]},"mark":{"type":"text","align":"left","baseline":"middle","fontSize":21,"color":"#ffffff"},
  "encoding":{"x":{"datum":{"year":2025,"month":9,"date":18,"hours":22,"utc":true},"type":"temporal"},"y":{"datum":0.647,"type":"quantitative"},"text":{"value":"1.864"}}},
 {"data":{"values":[{}]},"mark":{"type":"text","align":"left","baseline":"middle","fontSize":21,"color":"#ffffff"},
  "encoding":{"x":{"datum":{"year":2025,"month":9,"date":18,"hours":22,"utc":true},"type":"temporal"},"y":{"datum":-1.471,"type":"quantitative"},"text":{"value":"1.12 M"}}}
]}
],
"resolve":{"scale":{"y":"independent"}}
},
{
"width":1305,"height":212,
"title":{"text":"TradingView","orient":"bottom","anchor":"start","font":"Noto Sans","fontSize":40,"fontWeight":"bold","color":"#131722","offset":59,"dx":81},
"layer":[
 {"data":{"values":[{}]},"mark":{"type":"rect","color":"#7e57c2","opacity":0.1},
  "encoding":{"y":{"datum":70,"type":"quantitative"},"y2":{"datum":30}}},
 {"data":{"values":[{}]},"mark":{"type":"rule","color":"#787b86","strokeDash":[7,6],"strokeWidth":1.5},
  "encoding":{"y":{"datum":70,"type":"quantitative"}}},
 {"data":{"values":[{}]},"mark":{"type":"rule","color":"#b2b5be","strokeDash":[7,6],"strokeWidth":1.5},
  "encoding":{"y":{"datum":50,"type":"quantitative"}}},
 {"data":{"values":[{}]},"mark":{"type":"rule","color":"#787b86","strokeDash":[7,6],"strokeWidth":1.5},
  "encoding":{"y":{"datum":30,"type":"quantitative"}}},
 {"data":{"name":"rsima"},"mark":{"type":"line","color":"#fdd835","strokeWidth":1.8,"interpolate":"monotone"},
  "encoding":{"x":{"field":"date","type":"temporal"},"y":{"field":"ma","type":"quantitative"}}},
 {"data":{"name":"rsi"},"mark":{"type":"line","color":"#7e57c2","strokeWidth":1.8},
  "encoding":{"x":{"field":"date","type":"temporal","scale":{"type":"utc","nice":false,"domain":[{"year":2025,"month":4,"date":23,"hours":20,"utc":true},{"year":2025,"month":9,"date":16,"hours":20,"utc":true}]},
       "axis":{"values":[{"year":2025,"month":5,"date":1,"utc":true},{"year":2025,"month":6,"date":1,"utc":true},{"year":2025,"month":7,"date":1,"utc":true},{"year":2025,"month":8,"date":1,"utc":true},{"year":2025,"month":9,"date":1,"utc":true}],"format":"%b","labelFont":"Open Sans","labelFontSize":21,"labelFontWeight":600,"labelColor":"#131722","labelPadding":16,"ticks":false,"grid":true,"gridColor":"#f0f3fa","gridWidth":1.5,"domainColor":"#e0e3eb","domainWidth":1.5,"title":null,"labelOverlap":false,"labelFlush":false}},
   "y":{"field":"rsi","type":"quantitative","scale":{"domain":[18.72,75.64],"nice":false,"zero":false},
        "axis":{"orient":"right","values":[60,40,20],"labelExpr":"datum.value == 60 ? '' : format(datum.value, '.2f')","grid":true,"gridColor":"#f0f3fa","gridWidth":1.5,"ticks":false,"domainColor":"#e0e3eb","domainWidth":1.5,"labelFontSize":21,"labelColor":"#131722","labelPadding":16,"title":null}}}},
 {"data":{"values":[{}]},"mark":{"type":"text","align":"left","baseline":"middle","fontSize":21,"color":"#131722"},
  "encoding":{"x":{"datum":{"year":2025,"month":4,"date":25,"hours":15,"utc":true},"type":"temporal"},"y":{"datum":67.6,"type":"quantitative"},"text":{"value":"RSI (14, close)"}}},
 {"data":{"values":[{}]},"mark":{"type":"text","align":"left","baseline":"middle","fontSize":21,"color":"#7e57c2"},
  "encoding":{"x":{"datum":{"year":2025,"month":5,"date":14,"hours":7,"utc":true},"type":"temporal"},"y":{"datum":67.6,"type":"quantitative"},"text":{"value":"58.67"}}},
 {"data":{"values":[{}]},"mark":{"type":"text","align":"left","baseline":"middle","fontSize":21,"color":"#fdd835"},
  "encoding":{"x":{"datum":{"year":2025,"month":5,"date":22,"hours":14,"utc":true},"type":"temporal"},"y":{"datum":67.6,"type":"quantitative"},"text":{"value":"57.92"}}},
 {"data":{"values":[{}]},"mark":{"type":"rect","color":"#7e57c2","cornerRadius":2},
  "encoding":{"x":{"datum":{"year":2025,"month":9,"date":17,"hours":1,"utc":true},"type":"temporal"},"x2":{"datum":{"year":2025,"month":9,"date":26,"hours":19,"utc":true}},"y":{"datum":63.0,"type":"quantitative"},"y2":{"datum":54.2}}},
 {"data":{"values":[{}]},"mark":{"type":"rect","color":"#fdd835","cornerRadius":2},
  "encoding":{"x":{"datum":{"year":2025,"month":9,"date":17,"hours":1,"utc":true},"type":"temporal"},"x2":{"datum":{"year":2025,"month":9,"date":26,"hours":19,"utc":true}},"y":{"datum":54.2,"type":"quantitative"},"y2":{"datum":45.3}}},
 {"data":{"values":[{}]},"mark":{"type":"text","align":"left","baseline":"middle","fontSize":21,"color":"#ffffff"},
  "encoding":{"x":{"datum":{"year":2025,"month":9,"date":18,"hours":22,"utc":true},"type":"temporal"},"y":{"datum":58.5,"type":"quantitative"},"text":{"value":"58.67"}}},
 {"data":{"values":[{}]},"mark":{"type":"text","align":"left","baseline":"middle","fontSize":21,"color":"#131722"},
  "encoding":{"x":{"datum":{"year":2025,"month":9,"date":18,"hours":22,"utc":true},"type":"temporal"},"y":{"datum":49.9,"type":"quantitative"},"text":{"value":"57.92"}}}
]
}
]
}
